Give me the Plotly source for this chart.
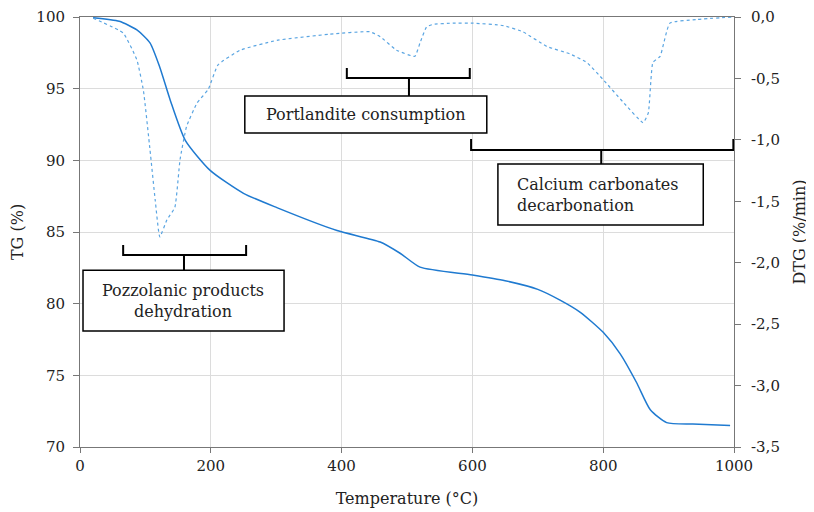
import plotly.graph_objects as go

# TG curve (solid, left axis)
tg_temp = [20, 60, 87, 107, 122, 138, 161, 199, 250, 301, 393, 459, 490, 520, 600, 650, 700,
           734, 765, 800, 826, 851, 872, 897, 937, 994]
tg_val = [99.95, 99.7, 99.1, 98.2, 96.5, 94.2, 91.4, 89.3, 87.7, 86.7, 85.1, 84.3, 83.5, 82.55, 82.0,
          81.6, 81.0, 80.25, 79.4, 78.0, 76.5, 74.5, 72.6, 71.7, 71.6, 71.5]

# DTG curve (dotted, right axis)
dtg_temp = [20, 66, 87, 97, 107, 115, 122, 133, 145, 153, 163, 179, 196, 211, 245, 301, 382, 443,
            459, 484, 512, 520, 530, 540, 570, 601, 647, 677, 714, 749, 775, 800, 830, 861, 869,
            876, 887, 902, 943, 998]
dtg_val = [-0.01, -0.13, -0.35, -0.6, -1.08, -1.49, -1.79, -1.65, -1.55, -1.16, -0.89, -0.70, -0.59,
           -0.39, -0.27, -0.19, -0.14, -0.12, -0.16, -0.27, -0.32, -0.21, -0.08, -0.06, -0.05, -0.05,
           -0.07, -0.12, -0.24, -0.30, -0.37, -0.51, -0.69, -0.86, -0.78, -0.37, -0.32, -0.05, -0.02, 0.0]

tg_ticks = [70, 75, 80, 85, 90, 95, 100]
dtg_ticks = [0, -0.5, -1.0, -1.5, -2.0, -2.5, -3.0, -3.5]
dtg_ticktext = ["0,0", "-0,5", "-1,0", "-1,5", "-2,0", "-2,5", "-3,0", "-3,5"]

# labelled regions: text, bracket (x_left, x_right, x_stem, y_top, y_bottom),
# box (x0, x1, y_top, y_bottom), text anchor
regions = [
    dict(text="Pozzolanic products<br>dehydration", bracket=(66, 254, 159, 84.09, 83.39),
         box=(4.6, 312, 82.34, 78.09), tx=158, align="center"),
    dict(text="Portlandite consumption", bracket=(408, 596, 503, 96.44, 95.74),
         box=(252, 622, 94.49, 91.91), tx=437, align="center"),
    dict(text="Calcium carbonates<br>decarbonation", bracket=(598, 999, 797, 91.49, 90.72),
         box=(639, 953, 89.74, 85.49), tx=665, align="left"),
]

FONT = "DejaVu Serif"

fig = go.Figure()
fig.add_trace(go.Scatter(x=tg_temp, y=tg_val, mode="lines",
                         line=dict(color="#1f7ad0", width=1.5, shape="spline", smoothing=0.6),
                         showlegend=False))
fig.add_trace(go.Scatter(x=dtg_temp, y=dtg_val, mode="lines", yaxis="y2",
                         line=dict(color="#5aa5e2", width=1.2, dash="dot", shape="spline", smoothing=0.4),
                         showlegend=False))

shapes = []
annotations = []
for r in regions:
    xl, xr, xs, yt, yb = r["bracket"]
    shapes.append(dict(type="path", xref="x", yref="y",
                       path=f"M {xl},{yt} L {xl},{yb} L {xr},{yb} L {xr},{yt} M {xs},{yb} L {xs},{r['box'][2]}",
                       line=dict(color="black", width=2)))
    x0, x1, y0, y1 = r["box"]
    shapes.append(dict(type="rect", xref="x", yref="y", x0=x0, x1=x1, y0=y0, y1=y1,
                       line=dict(color="black", width=1.5), fillcolor="white"))
    annotations.append(dict(text=r["text"], x=r["tx"], y=(y0 + y1) / 2, xref="x", yref="y",
                            xanchor="center" if r["align"] == "center" else "left", yanchor="middle",
                            showarrow=False, align=r["align"],
                            font=dict(family=FONT, size=16, color="#222")))

# page body adds ~8px offset, so margins are shifted to keep the plot area in place
fig.update_layout(
    width=814, height=512,
    margin=dict(l=72, r=88, t=9, b=73),
    plot_bgcolor="white", paper_bgcolor="white",
    font=dict(family=FONT, size=15, color="#222"),
    xaxis=dict(range=[0, 1000], dtick=200, showgrid=True, gridcolor="#dcdcdc", showline=True, linecolor="#777",
               mirror=True, ticks="outside", ticklen=5, tickcolor="#777", zeroline=False, automargin=False,
               title=dict(text="Temperature (°C)", standoff=18, font=dict(size=16))),
    yaxis=dict(range=[70, 100], tickvals=tg_ticks, showgrid=True, gridcolor="#dcdcdc", showline=True,
               linecolor="#777", ticks="outside", ticklen=6, tickcolor="#777", zeroline=False, automargin=False,
               ticklabelstandoff=5,
               title=dict(text="TG (%)", standoff=8, font=dict(size=16))),
    yaxis2=dict(range=[-3.5, 0], overlaying="y", side="right", tickvals=dtg_ticks, ticktext=dtg_ticktext,
                showgrid=False, showline=True, linecolor="#777", ticks="outside", ticklen=6, tickcolor="#777",
                zeroline=False, automargin=False, ticklabelstandoff=7,
                title=dict(text="DTG (%/min)", standoff=14, font=dict(size=16))),
    shapes=shapes,
    annotations=annotations,
)

fig.write_html("out.html")
